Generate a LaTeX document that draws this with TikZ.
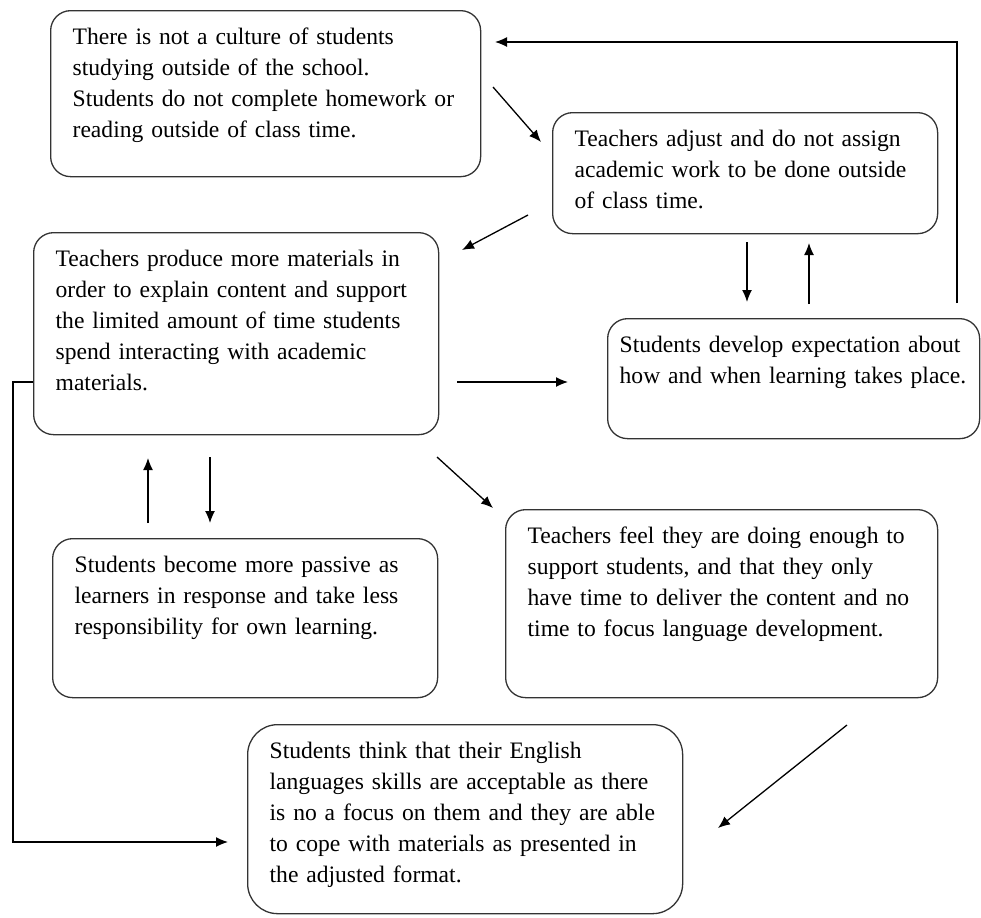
\documentclass[tikz,border=0pt]{standalone}
\usepackage{fontspec}
\setmainfont{Liberation Serif}
\usetikzlibrary{arrows.meta}

\begin{document}
\begin{tikzpicture}[x=0.5pt, y=-0.5pt, ->, >={Latex[length=6pt,width=5pt]}, line width=0.65pt,
    box/.style 2 args={draw=black!80, -, rounded corners=10pt, anchor=north west, align=left,
        inner xsep=11pt, inner ysep=6pt, text height=11pt, text width=#1, text depth=#2,
        font={\fontsize{11.8}{15.5}\selectfont\spaceskip=0.2em plus 0.1em\relax}}]

        \useasboundingbox (0,0) rectangle (981,917);

        \node[box={193pt}{60pt}] (culture) at (50,10) {There is not a culture of students\\ studying outside of the school.\\ Students do not complete homework or\\ reading outside of class time.};
        \node[box={170.5pt}{37.5pt}] (adjust) at (552,112) {Teachers adjust and do not assign\\ academic work to be done outside\\ of class time.};
        \node[box={180.5pt}{78pt}] (produce) at (33,232) {Teachers produce more materials in\\ order to explain content and support\\ the limited amount of time students\\ spend interacting with academic\\ materials.};
        \node[box={174pt}{37pt}, inner xsep=6pt] (expect) at (607,318) {Students develop expectation about\\ how and when learning takes place.};
        \node[box={170.5pt}{56.5pt}] (passive) at (52,538) {Students become more passive as\\ learners in response and take less\\ responsibility for own learning.};
        \node[box={194pt}{71pt}] (enough) at (505,509) {Teachers feel they are doing enough to\\ support students, and that they only\\ have time to deliver the content and no\\ time to focus language development.};
        \node[box={195.5pt}{71.5pt}, rounded corners=15pt] (english) at (247,724) {Students think that their English\\ languages skills are acceptable as there\\ is no a focus on them and they are able\\ to cope with materials as presented in\\ the adjusted format.};

        % Arrow ends
        \coordinate (loop1) at (957,303);
        \coordinate (loop2) at (495,42);
        \coordinate (ca1) at (493,87);
        \coordinate (ca2) at (541,142);
        \coordinate (ap1) at (528,215);
        \coordinate (ap2) at (462,250);
        \coordinate (ae1) at (747,242);
        \coordinate (ae2) at (747,302);
        \coordinate (ea1) at (809,304);
        \coordinate (ea2) at (809,243);
        \coordinate (pe1) at (457,382);
        \coordinate (pe2) at (568,382);
        \coordinate (sp1) at (148,523);
        \coordinate (sp2) at (148,458);
        \coordinate (ps1) at (210,457);
        \coordinate (ps2) at (210,523);
        \coordinate (pt1) at (437,457);
        \coordinate (pt2) at (493,508);
        \coordinate (te1) at (847,725);
        \coordinate (te2) at (718,828);
        \coordinate (side1) at (33,382);
        \coordinate (side2) at (13,382);
        \coordinate (side3) at (228,842);

        % Edges
        \draw (loop1) |- (loop2);
        \draw (ca1) -- (ca2);
        \draw (ap1) -- (ap2);
        \draw (ae1) -- (ae2);
        \draw (ea1) -- (ea2);
        \draw (pe1) -- (pe2);
        \draw (sp1) -- (sp2);
        \draw (ps1) -- (ps2);
        \draw (pt1) -- (pt2);
        \draw (te1) -- (te2);
        \draw (side1) -- (side2) |- (side3);
    \end{tikzpicture}
\end{document}
